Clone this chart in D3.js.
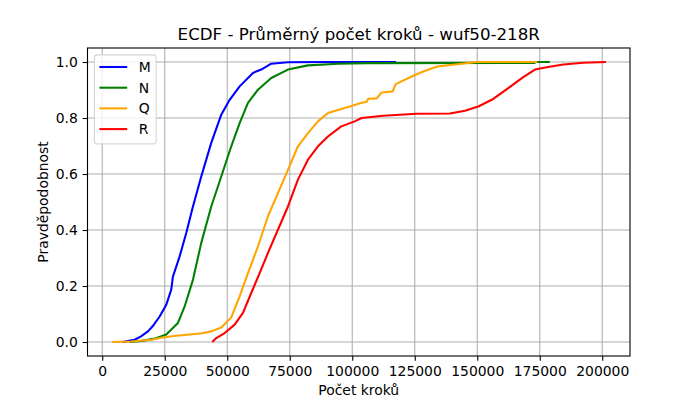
<!DOCTYPE html>
<html>
<head>
<meta charset="utf-8">
<script src="https://cdn.jsdelivr.net/npm/d3@7"></script>
<style>
  html, body { margin: 0; padding: 0; background: #fff; }
  svg { display: block; font-family: "DejaVu Sans", sans-serif; }
</style>
</head>
<body>
<svg id="chart" width="700" height="400"></svg>
<script>
// ---- Data ----
const seriesNames = ["M", "N", "Q", "R"];
const seriesColors = ["blue", "green", "orange", "red"];

const M_x = [8000, 12960, 15500, 18280, 20500, 22960, 25600, 27600, 28280, 30960, 33600, 36280, 39600, 43600, 47600, 50960, 54960, 60280, 63600, 67600, 74280, 90000, 117500];
const M_y = [0, 0.008, 0.02, 0.038, 0.06, 0.091, 0.133, 0.187, 0.234, 0.306, 0.389, 0.484, 0.591, 0.711, 0.812, 0.865, 0.913, 0.961, 0.973, 0.994, 0.999, 1.0, 1.0];

const N_x = [11000, 16000, 20960, 25600, 28960, 30280, 32960, 36280, 39600, 43600, 47600, 51600, 54960, 58280, 62280, 67600, 74280, 82280, 94280, 106280, 173000, 173100, 179000];
const N_y = [0, 0.004, 0.012, 0.027, 0.056, 0.068, 0.127, 0.222, 0.354, 0.484, 0.591, 0.699, 0.782, 0.854, 0.901, 0.943, 0.973, 0.988, 0.994, 0.996, 0.997, 1.0, 1.0];

const Q_x = [4000, 11600, 19600, 24000, 29600, 35000, 40000, 43600, 47600, 51600, 54960, 58280, 62280, 66280, 70280, 74280, 78280, 82280, 86280, 90280, 96960, 99080, 103080, 105760, 106400, 109760, 111760, 116160, 117360, 124400, 128400, 134000, 142000, 149760, 174000];
const Q_y = [0, 0.002, 0.008, 0.016, 0.0225, 0.027, 0.031, 0.038, 0.052, 0.088, 0.163, 0.246, 0.341, 0.449, 0.532, 0.615, 0.699, 0.746, 0.788, 0.818, 0.836, 0.841, 0.853, 0.858, 0.869, 0.87, 0.891, 0.895, 0.921, 0.951, 0.966, 0.984, 0.992, 1.0, 1.0];

const R_x = [44000, 45600, 48960, 52960, 56280, 59600, 62960, 66280, 70280, 74280, 78280, 82280, 86280, 90280, 95600, 100960, 103760, 112400, 125760, 139080, 145080, 150400, 156400, 162400, 168400, 173080, 177760, 184400, 192400, 201500];
const R_y = [0, 0.014, 0.032, 0.062, 0.104, 0.175, 0.246, 0.318, 0.401, 0.484, 0.58, 0.651, 0.699, 0.734, 0.77, 0.788, 0.8, 0.808, 0.815, 0.816, 0.826, 0.841, 0.868, 0.907, 0.946, 0.973, 0.981, 0.991, 0.9975, 1.0];

const xTicks = [0, 25000, 50000, 75000, 100000, 125000, 150000, 175000, 200000];
const yTicks = [0.0, 0.2, 0.4, 0.6, 0.8, 1.0];

const titleText = "ECDF - Průměrný počet kroků - wuf50-218R";
const xLabelText = "Počet kroků";
const yLabelText = "Pravděpodobnost";

// ---- Layout ----
const W = 700, H = 400;
const pL = 87.5, pR = 630, pT = 48, pB = 356;
const FS = 13.9;        // 10pt at 100dpi
const tickLen = 4.86;

const svg = d3.select("#chart");

const x = d3.scaleLinear().domain([-5900, 211100]).range([pL, pR]);
const y = d3.scaleLinear().domain([-0.05, 1.05]).range([pB, pT]);

const series = [
  { name: seriesNames[0], color: seriesColors[0], xs: M_x, ys: M_y },
  { name: seriesNames[1], color: seriesColors[1], xs: N_x, ys: N_y },
  { name: seriesNames[2], color: seriesColors[2], xs: Q_x, ys: Q_y },
  { name: seriesNames[3], color: seriesColors[3], xs: R_x, ys: R_y },
];

// clip
svg.append("defs").append("clipPath").attr("id", "clip")
  .append("rect").attr("x", pL).attr("y", pT).attr("width", pR - pL).attr("height", pB - pT);

// grid
const grid = svg.append("g");
grid.selectAll("line.vx").data(xTicks).join("line")
  .attr("x1", d => x(d)).attr("x2", d => x(d))
  .attr("y1", pT).attr("y2", pB)
  .attr("stroke", "#b0b0b0").attr("stroke-width", 1.1);
grid.selectAll("line.hy").data(yTicks).join("line")
  .attr("x1", pL).attr("x2", pR)
  .attr("y1", d => y(d)).attr("y2", d => y(d))
  .attr("stroke", "#b0b0b0").attr("stroke-width", 1.1);

// lines
const line = d3.line().x(d => x(d[0])).y(d => y(d[1]));
const plot = svg.append("g").attr("clip-path", "url(#clip)");
series.forEach(s => {
  const pts = s.xs.map((v, i) => [v, s.ys[i]]);
  plot.append("path").datum(pts)
    .attr("d", line)
    .attr("fill", "none")
    .attr("stroke", s.color)
    .attr("stroke-width", 2.08)
    .attr("stroke-linejoin", "round")
    .attr("stroke-linecap", "butt");
});

// axes
const xAxis = d3.axisBottom(x).tickValues(xTicks).tickFormat(d3.format("d"))
  .tickSize(tickLen).tickPadding(4.86);
const gx = svg.append("g").attr("transform", `translate(0,${pB})`).call(xAxis);
const yAxis = d3.axisLeft(y).tickValues(yTicks).tickFormat(d3.format(".1f"))
  .tickSize(tickLen).tickPadding(4.86);
const gy = svg.append("g").attr("transform", `translate(${pL},0)`).call(yAxis);

[gx, gy].forEach(g => {
  g.select(".domain").remove();
  g.selectAll(".tick line").attr("stroke", "#000").attr("stroke-width", 1.1);
  g.selectAll(".tick text").attr("fill", "#000")
    .style("font-family", "DejaVu Sans").style("font-size", FS + "px");
});
gx.selectAll(".tick text").attr("dy", "0.76em");

// spines
svg.append("rect").attr("x", pL).attr("y", pT)
  .attr("width", pR - pL).attr("height", pB - pT)
  .attr("fill", "none").attr("stroke", "#000").attr("stroke-width", 1.1);

// title
svg.append("text").attr("x", (pL + pR) / 2).attr("y", 40)
  .attr("text-anchor", "middle").style("font-size", "16.67px").attr("fill", "#000")
  .text(titleText);

// axis labels
svg.append("text").attr("x", (pL + pR) / 2).attr("y", 395)
  .attr("text-anchor", "middle").style("font-size", FS + "px").attr("fill", "#000")
  .text(xLabelText);
svg.append("text")
  .attr("transform", `translate(48,${(pT + pB) / 2}) rotate(-90)`)
  .attr("text-anchor", "middle").style("font-size", FS + "px").attr("fill", "#000")
  .text(yLabelText);

// legend
const lgX = 94.4, lgY = 54.9, lgW = 61.8, lgH = 89;
const lg = svg.append("g");
lg.append("rect").attr("x", lgX).attr("y", lgY).attr("width", lgW).attr("height", lgH)
  .attr("rx", 2.8).attr("ry", 2.8)
  .attr("fill", "rgba(255,255,255,0.8)").attr("stroke", "#d6d6d6").attr("stroke-width", 1.1);
series.forEach((s, i) => {
  const cy = lgY + 12.1 + i * 20.7;
  lg.append("line").attr("x1", lgX + 5).attr("x2", lgX + 5 + 27.8)
    .attr("y1", cy).attr("y2", cy)
    .attr("stroke", s.color).attr("stroke-width", 2.08);
  lg.append("text").attr("x", lgX + 44.4).attr("y", cy).attr("dy", "0.36em")
    .style("font-size", FS + "px").attr("fill", "#000").text(s.name);
});
</script>
</body>
</html>
